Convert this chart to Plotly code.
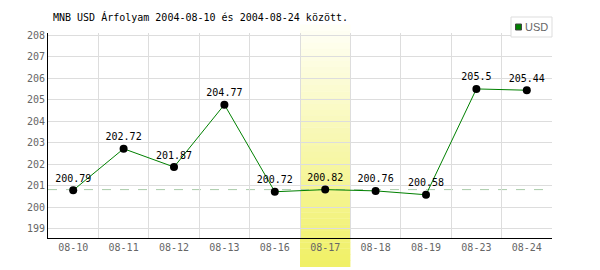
import plotly.graph_objects as go

dates = ["08-10", "08-11", "08-12", "08-13", "08-16", "08-17", "08-18", "08-19", "08-23", "08-24"]
usd = [200.79, 202.72, 201.87, 204.77, 200.72, 200.82, 200.76, 200.58, 205.5, 205.44]
value_labels = ["200.79", "202.72", "201.87", "204.77", "200.72", "200.82", "200.76", "200.58", "205.5", "205.44"]
highlight_date = "08-17"
reference_value = 200.82
y_ticks = list(range(199, 209))
series_name = "USD"

title_text = "MNB USD Árfolyam 2004-08-10 és 2004-08-24 között."
mono = "DejaVu Sans Mono"

W, H = 600, 270
L, R, T, B = 48, 48, 33, 32
plot_w = W - L - R
plot_h = H - T - B


def px_x(px):
    return (px - L) / plot_w


def px_y(py):
    return (H - B - py) / plot_h


fig = go.Figure()

fig.add_trace(go.Scatter(
    x=dates, y=usd, mode="lines+markers+text", name=series_name,
    line=dict(color="#008000", width=1),
    marker=dict(color="black", size=8),
    text=value_labels, textposition="top center",
    textfont=dict(family=mono, size=10, color="black"),
    showlegend=False, cliponaxis=False,
))

# gradient band for highlighted day
hi = dates.index(highlight_date)
top_px, bot_px = 25, 267
n = 40
c_top = (255, 255, 248)
c_bot = (240, 240, 100)
for i in range(n):
    p0 = top_px + (bot_px - top_px) * i / n
    p1 = top_px + (bot_px - top_px) * (i + 1) / n
    f = (i + 0.5) / n
    col = tuple(round(c_top[k] + (c_bot[k] - c_top[k]) * f) for k in range(3))
    fig.add_shape(type="rect", xref="x", yref="paper",
                  x0=hi - 0.5, x1=hi + 0.5,
                  y0=px_y(p1), y1=px_y(p0) + 0.002,
                  fillcolor="rgb(%d,%d,%d)" % col, line=dict(width=0),
                  layer="between")

fig.add_shape(type="line", xref="paper", yref="y", x0=0, x1=1,
              y0=reference_value, y1=reference_value,
              line=dict(color="#a8cca8", width=1, dash="dash"), layer="between")

# manual legend box
fig.add_shape(type="rect", xref="paper", yref="paper",
              x0=px_x(511), x1=px_x(552), y0=px_y(37), y1=px_y(17),
              fillcolor="white", line=dict(color="#dddddd", width=1), layer="above")
fig.add_shape(type="rect", xref="paper", yref="paper",
              x0=px_x(515.5), x1=px_x(521.5), y0=px_y(30), y1=px_y(24),
              fillcolor="#008000", line=dict(color="#444444", width=1), layer="above")
fig.add_annotation(xref="paper", yref="paper", x=px_x(523), y=px_y(27),
                   xanchor="left", yanchor="middle", showarrow=False,
                   text=series_name,
                   font=dict(family="Liberation Sans Narrow, Arial Narrow, sans-serif",
                             size=11, color="#666666"))

fig.update_layout(
    width=W, height=H,
    margin=dict(l=L, r=R, t=T, b=B),
    paper_bgcolor="white", plot_bgcolor="white",
    showlegend=False,
    title=dict(text=title_text, xref="container", yref="container",
               x=53 / W, xanchor="left", y=1 - 17 / H, yanchor="middle",
               font=dict(family=mono, size=10, color="black")),
    xaxis=dict(type="category", categoryorder="array", categoryarray=dates,
               range=[-0.5, len(dates) - 0.5], tickson="boundaries",
               showgrid=True, gridcolor="#dddddd", gridwidth=1,
               showline=True, linecolor="black", linewidth=1,
               ticks="", tickfont=dict(family=mono, size=10, color="#666666"),
               zeroline=False, fixedrange=True),
    yaxis=dict(range=[198.57, 208.1], tickvals=y_ticks,
               ticktext=[str(v) for v in y_ticks],
               showgrid=True, gridcolor="#dddddd", gridwidth=1,
               showline=True, linecolor="black", linewidth=1,
               ticks="", tickfont=dict(family=mono, size=10, color="#666666"),
               zeroline=False, fixedrange=True),
)

fig.write_html("out.html")
